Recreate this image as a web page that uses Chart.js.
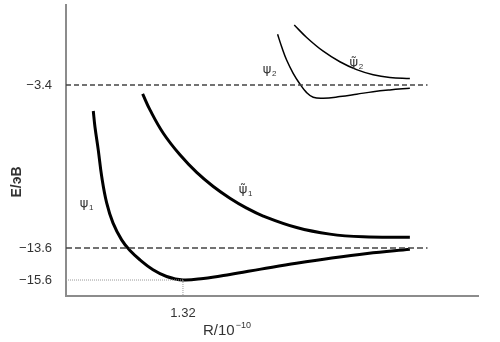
<!DOCTYPE html>
<html>
<head>
<meta charset="utf-8">
<script src="https://cdn.jsdelivr.net/npm/chart.js@4.4.1/dist/chart.umd.min.js"></script>
<style>
  html, body { margin: 0; padding: 0; background: #fff; }
  #wrap { width: 500px; height: 342px; }
</style>
</head>
<body>
<div id="wrap"><canvas id="energyChart"></canvas></div>
<script>
// potential curves, R in 1e-10 m, E in eV
const rPsi1 = [0.308, 0.327, 0.364, 0.403, 0.459, 0.530, 0.628, 0.722, 0.835, 0.982, 1.136, 1.32, 1.55, 1.85, 2.20, 2.60, 3.00, 3.40, 3.881];
const ePsi1 = [-5.03, -6.03, -7.46, -9.13, -10.78, -12.03, -13.09, -13.76, -14.34, -14.96, -15.38, -15.6, -15.50, -15.25, -14.92, -14.55, -14.22, -13.94, -13.68];

const rPsi1t = [0.865, 0.948, 1.098, 1.286, 1.475, 1.662, 1.850, 2.039, 2.226, 2.603, 2.978, 3.354, 3.881];
const ePsi1t = [-3.96, -4.96, -6.42, -7.77, -8.87, -9.75, -10.48, -11.10, -11.60, -12.32, -12.73, -12.90, -12.93];

const rPsi2 = [2.388, 2.434, 2.490, 2.564, 2.640, 2.716, 2.790, 2.903, 3.091, 3.280, 3.467, 3.655, 3.881];
const ePsi2 = [-0.23, -1.01, -1.84, -2.67, -3.34, -3.88, -4.17, -4.23, -4.13, -3.98, -3.82, -3.71, -3.61];

const rPsi2t = [2.576, 2.716, 2.903, 3.091, 3.280, 3.467, 3.655, 3.881];
const ePsi2t = [0.35, -0.43, -1.29, -1.95, -2.44, -2.76, -2.93, -3.00];

// levels and axis ticks
const levelValues = [-3.4, -13.6, -15.6];
const levelEnd = 4.08;
const rMin = 1.32;
const rTicks = [1.32];

// curve labels [text, subscript, tilde, R, E]
const curveLabels = [
    ['ψ', '1', false, 0.203, -10.84],
    ['ψ', '1', true, 1.997, -9.96],
    ['ψ', '2', false, 2.268, -2.46],
    ['ψ', '2', true, 3.249, -2.03]
];

const pts = (xs, ys) => xs.map((x, i) => ({x: x, y: ys[i]}));

function curve(xs, ys, width) {
    return {
        data: pts(xs, ys),
        showLine: true,
        borderColor: '#000',
        borderWidth: width,
        pointRadius: 0,
        tension: 0.4,
        borderCapStyle: 'butt'
    };
}

function guide(data, dash, color, width) {
    return {
        data: data,
        showLine: true,
        borderColor: color,
        borderWidth: width,
        borderDash: dash,
        pointRadius: 0,
        tension: 0
    };
}

const labelPlugin = {
    id: 'curveText',
    afterDatasetsDraw(chart) {
        const c = chart.ctx, xs = chart.scales.x, ys = chart.scales.y, area = chart.chartArea;
        c.save();
        c.fillStyle = '#333';
        c.textBaseline = 'middle';
        curveLabels.forEach(function (l) {
            const px = xs.getPixelForValue(l[3]), py = ys.getPixelForValue(l[4]);
            c.font = '13px "DejaVu Sans"';
            c.textAlign = 'center';
            c.fillText(l[2] ? l[0] + '\u0303' : l[0], px, py);
            c.font = '8px "Liberation Sans"';
            c.textAlign = 'left';
            c.fillText(l[1], px + 5, py + 4);
        });

        // axis titles
        c.font = '15px "Liberation Sans"';
        c.textAlign = 'left';
        c.textBaseline = 'alphabetic';
        const tx = area.left + 137, ty = area.bottom + 39;
        c.fillText('R/10', tx, ty);
        const w = c.measureText('R/10').width;
        c.font = '9px "Liberation Sans"';
        c.fillText('\u221210', tx + w + 1, ty - 7);

        c.translate(17, area.top + 177);
        c.rotate(-Math.PI / 2);
        c.font = 'bold 14px "Liberation Sans"';
        c.textAlign = 'center';
        c.textBaseline = 'middle';
        c.fillText('Е/эВ', 0, 0);
        c.restore();
    }
};

new Chart(document.getElementById('energyChart'), {
    type: 'scatter',
    plugins: [labelPlugin],
    data: {
        datasets: [
            guide([{x: 0, y: levelValues[0]}, {x: levelEnd, y: levelValues[0]}], [5, 3], '#444', 1.5),
            guide([{x: 0, y: levelValues[1]}, {x: levelEnd, y: levelValues[1]}], [6, 3], '#444', 1.5),
            guide([{x: 0, y: levelValues[2]}, {x: rMin, y: levelValues[2]}], [1, 1], '#999', 1),
            guide([{x: rMin, y: levelValues[2]}, {x: rMin, y: -16.6}], [1, 1], '#999', 1),
            curve(rPsi1, ePsi1, 3),
            curve(rPsi1t, ePsi1t, 3),
            curve(rPsi2, ePsi2, 1.5),
            curve(rPsi2t, ePsi2t, 1.5)
        ]
    },
    options: {
        responsive: true,
        maintainAspectRatio: false,
        animation: false,
        layout: {padding: {top: 5, right: 22, left: 0, bottom: 0}},
        plugins: {legend: {display: false}, tooltip: {enabled: false}},
        scales: {
            x: {
                type: 'linear', min: 0, max: 4.65,
                grid: {display: false, drawTicks: false},
                border: {display: true, color: '#8c8c8c', width: 2},
                afterBuildTicks: function (s) { s.ticks = rTicks.map(v => ({value: v})); },
                afterFit: function (s) {
                    s.height = 46;
                    s.paddingLeft = s.paddingRight = 0;
                },
                ticks: {
                    padding: 10, color: '#333', autoSkip: false, maxRotation: 0,
                    font: {family: '"Liberation Sans"', size: 13},
                    callback: v => v.toFixed(2)
                }
            },
            y: {
                type: 'linear', min: -16.6, max: 1.6,
                grid: {display: false, drawTicks: false},
                border: {display: true, color: '#8c8c8c', width: 2},
                afterBuildTicks: function (s) { s.ticks = levelValues.map(v => ({value: v})); },
                afterFit: function (s) {
                    s.width = 66;
                    s.paddingTop = s.paddingBottom = 0;
                },
                ticks: {
                    padding: 14, color: '#333', autoSkip: false,
                    font: {family: '"Liberation Sans"', size: 13},
                    callback: v => '\u2212' + Math.abs(v).toFixed(1)
                }
            }
        }
    }
});
</script>
</body>
</html>
